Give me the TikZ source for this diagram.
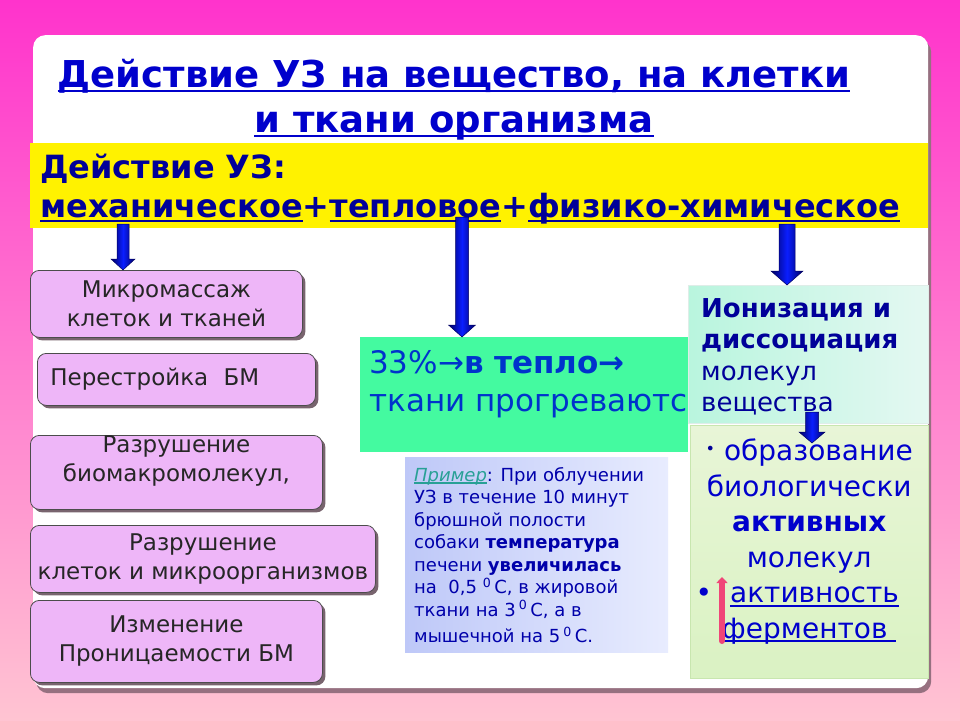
\documentclass[tikz,border=0pt]{standalone}
\usepackage{fontspec}
\setmainfont{DejaVu Sans}
\usetikzlibrary{calc,positioning,shadows,arrows.meta}
\definecolor{bgtop}{RGB}{255,51,204}
\definecolor{bgmid}{RGB}{255,125,212}
\definecolor{bgbot}{RGB}{255,196,210}
\definecolor{panelshadow}{RGB}{150,112,128}
\definecolor{titleblue}{RGB}{0,0,204}
\definecolor{navy}{RGB}{0,0,153}
\definecolor{lilac}{RGB}{238,182,248}
\definecolor{boxshadow}{RGB}{120,100,110}
\definecolor{mint}{RGB}{68,250,160}
\definecolor{heatblue}{RGB}{0,51,204}
\definecolor{exleft}{RGB}{190,200,248}
\definecolor{exright}{RGB}{232,236,254}
\definecolor{exblue}{RGB}{0,0,170}
\definecolor{extitle}{RGB}{40,160,150}
\definecolor{ionleft}{RGB}{185,245,222}
\definecolor{ionright}{RGB}{228,248,242}
\definecolor{acttop}{RGB}{232,245,215}
\definecolor{actbot}{RGB}{218,242,195}
\definecolor{actline}{RGB}{200,230,175}
\definecolor{arrblue}{RGB}{10,30,255}
\definecolor{arrnavy}{RGB}{0,0,100}
\definecolor{uparrow}{RGB}{240,70,120}
% underline at fixed depth
\newsavebox{\ulbox}
\newcommand{\uln}[1]{\leavevmode\sbox{\ulbox}{#1}\rlap{\rule[-0.13em]{\wd\ulbox}{0.065em}}\usebox{\ulbox}}
% block arrow: start, tip, half shaft, half head, head length
\newcommand{\blockarrow}[5]{%
  \shade[left color=arrnavy, right color=arrnavy, middle color=arrblue, draw=arrnavy, line width=0.5pt]
    let \p1=(#1), \p2=(#2) in
    (\x1-#3,\y1) -- (\x1+#3,\y1) -- (\x1+#3,\y2+#5) -- (\x1+#4,\y2+#5)
    -- (\x1,\y2) -- (\x1-#4,\y2+#5) -- (\x1-#3,\y2+#5) -- cycle;
}
\begin{document}
\begin{tikzpicture}[x=1pt,y=-1pt,
  panel/.style={fill=white, rounded corners=12pt, anchor=north west, inner sep=0pt,
    drop shadow={shadow xshift=3pt, shadow yshift=-5pt, fill=panelshadow, opacity=1}},
  lbox/.style={draw=black!70, fill=lilac, rounded corners=9pt, line width=0.8pt,
    anchor=north west, inner sep=0pt, align=center, text=black!85,
    font=\fontsize{23}{29}\selectfont,
    drop shadow={shadow xshift=3pt, shadow yshift=-3pt, fill=boxshadow, opacity=1}},
  ltext/.style={inner sep=0pt, align=center, text=black!85, font=\fontsize{23}{29}\selectfont},
  headline/.style={align=center, text=titleblue, inner sep=0pt,
    font=\bfseries\fontsize{37}{45}\selectfont}]
\useasboundingbox (0,0) rectangle (960,720);
\shade[top color=bgtop, middle color=bgmid, bottom color=bgbot] (0,0) rectangle (960,720);
\node[panel, minimum width=895pt, minimum height=653pt] (panel) at (33,35) {};

% title
\node[headline, anchor=north] (title) at (454,59) {\uln{Действие УЗ на вещество, на клетки}\\
  \uln{и ткани организма}};

% yellow band
\node[fill=yellow, anchor=north west, minimum width=898pt, minimum height=85pt,
  inner sep=0pt] (yel) at (30,143) {};
\node[anchor=north west, inner sep=0pt, align=left, text=navy,
  font=\bfseries\fontsize{32}{39}\selectfont] (yeltxt) at ([xshift=10pt,yshift=-11pt]yel.north west)
  {Действие УЗ:\\ \uln{механическое}+\uln{тепловое}+\uln{физико-химическое}};

% left column
\node[lbox, minimum width=272pt, minimum height=67pt] (massage) at (30,270)
  {Микромассаж\\ клеток и тканей};
\node[lbox, minimum width=278pt, minimum height=52pt, inner xsep=13pt,
  text width=252pt, align=left] (rebuild) at (37,353) {Перестройка~~БМ};
\node[lbox, minimum width=292pt, minimum height=74pt] (destr) at (30,435) {};
\node[ltext, anchor=north] (destrtxt) at ([yshift=-1pt]destr.north)
  {Разрушение\\ биомакромолекул,};
\node[lbox, minimum width=345pt, minimum height=67pt] (cells) at (30,525)
  {Разрушение\\ клеток и микроорганизмов};
\node[lbox, minimum width=292pt, minimum height=82pt] (perm) at (30,600)
  {Изменение\\ Проницаемости БМ};

% heat
\node[fill=mint, anchor=north west, minimum width=328pt, minimum height=115pt,
  inner sep=0pt] (heat) at (360,337) {};
\node[anchor=north west, inner sep=0pt, align=left, text=heatblue,
  font=\fontsize{31}{38}\selectfont] (heattxt) at ([xshift=9pt,yshift=-13pt]heat.north west)
  {33\%→\textbf{в тепло→}\\ ткани прогреваютс};

% example
\node[left color=exleft, right color=exright, anchor=north west, minimum width=263pt,
  minimum height=195pt, inner sep=0pt] (ex) at (405,457) {};
\node[anchor=north west, inner sep=0pt, align=left, text=exblue,
  font=\fontsize{18}{22.5}\selectfont] (extxt) at ([xshift=9pt,yshift=-10pt]ex.north west)
  {\textcolor{extitle}{\uln{\textit{Пример}}}: При облучении\\
   УЗ в течение 10 минут\\
   брюшной полости\\
   собаки \textbf{температура}\\
   печени \textbf{увеличилась}\\
   на~~0,5 \textsuperscript{0}\,С, в жировой\\
   ткани на 3\,\textsuperscript{0}\,С, а в\\[4pt]
   мышечной на 5\,\textsuperscript{0}\,С.};

% ionization
\node[left color=ionleft, right color=ionright, draw=ionleft!80!black!30, anchor=north west,
  minimum width=240pt, minimum height=138pt, inner sep=0pt] (ion) at (688,285) {};
\node[anchor=north west, inner sep=0pt, align=left, text=navy,
  font=\fontsize{26}{31.5}\selectfont] (iontxt) at ([xshift=13pt,yshift=-13pt]ion.north west)
  {\textbf{Ионизация и}\\ \textbf{диссоциация}\\ молекул\\ вещества};

% activity
\node[top color=acttop, bottom color=actbot, draw=actline, anchor=north west,
  minimum width=238pt, minimum height=253pt, inner sep=0pt] (act) at (690,425) {};
\node[anchor=north, inner sep=0pt, align=center, text=titleblue,
  font=\fontsize{28}{35.5}\selectfont] (acttxt) at ([yshift=-14pt]act.north)
  {{\fontsize{16}{16}\selectfont\textcolor{navy}{\raisebox{6pt}{•}}}\ образование\\
   биологически\\ \textbf{активных}\\ молекул\\
   •\hspace{18pt}\uln{активность}\rule{24pt}{0pt}\\ \uln{ферментов\ }};
\coordinate (upfoot) at (722,641);
\coordinate (uphead) at (722,577);
\draw[uparrow, line width=6pt, line cap=round, -{Triangle[width=11pt,length=6pt]}] (upfoot) -- (uphead);

% block arrows
\coordinate (amass) at (123,224);
\coordinate (aheat) at (462,217);
\coordinate (aion) at (787,224);
\coordinate (aact) at (812,412);
\coordinate (tact) at (812,443);
\blockarrow{amass}{amass |- massage.north}{6pt}{12pt}{11pt}
\blockarrow{aheat}{aheat |- heat.north}{6.5pt}{13.5pt}{12pt}
\blockarrow{aion}{aion |- ion.north}{8pt}{16pt}{14pt}
\blockarrow{aact}{tact}{6.5pt}{13pt}{11pt}
\end{tikzpicture}
\end{document}
